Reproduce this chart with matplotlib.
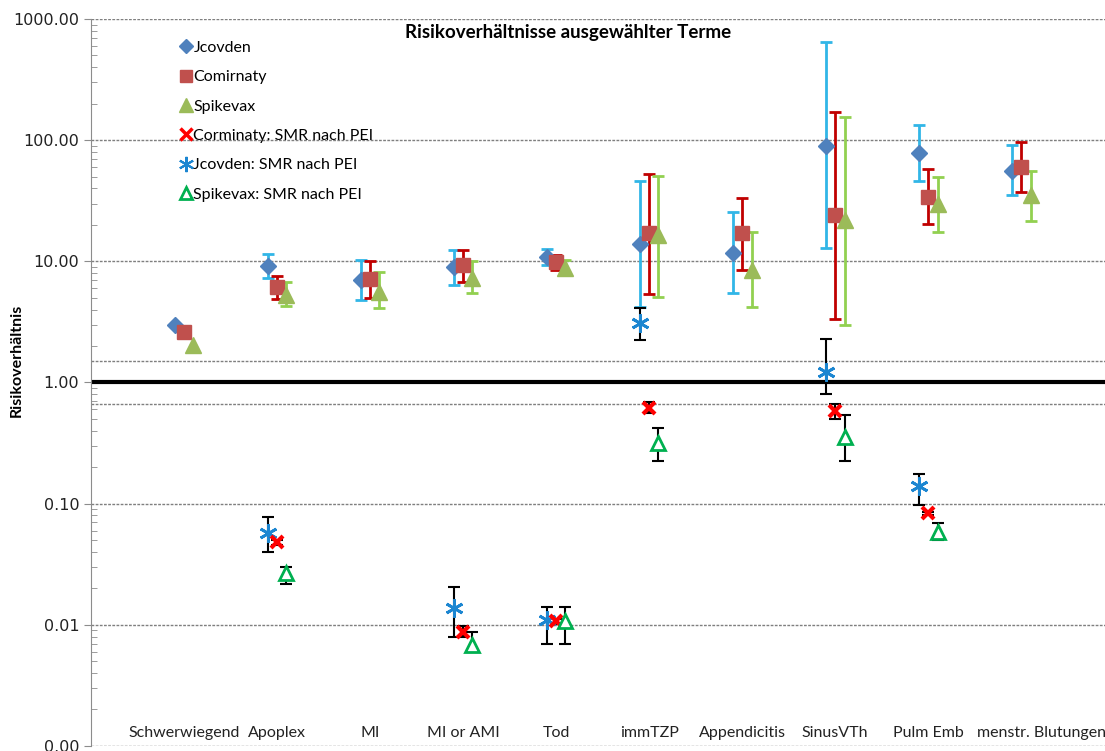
import numpy as np
import matplotlib
matplotlib.use("Agg")
import matplotlib.pyplot as plt
from matplotlib.lines import Line2D
from matplotlib.ticker import FixedLocator, LogLocator, NullFormatter, FuncFormatter

# tick labels use DejaVu, everything else names Lato explicitly
plt.rcParams['font.family'] = ['DejaVu Sans']
TXT = ['Lato', 'DejaVu Sans']

categories = ["Schwerwiegend", "Apoplex", "MI", "MI or AMI", "Tod", "immTZP",
              "Appendicitis", "SinusVTh", "Pulm Emb", "menstr. Blutungen*"]

# Risk ratios with confidence limits (nan = no value / no error bar)
nan = np.nan
jcovden     = [3.0, 9.2, 6.95, 8.9, 10.9, 14.0, 11.8, 90, 79, 56]
jcovden_lo  = [nan, 7.35, 4.75, 6.4, 9.4, 4.16, 5.5, 12.8, 46, 35]
jcovden_hi  = [nan, 11.6, 10.2, 12.5, 12.7, 46.4, 25.3, 650, 134, 92]

comirnaty    = [2.63, 6.1, 7.1, 9.4, 9.8, 17.0, 17.0, 24.0, 34, 60]
comirnaty_lo = [nan, 4.93, 5.0, 6.8, 8.5, 5.4, 8.4, 3.37, 20.5, 37]
comirnaty_hi = [nan, 7.5, 10.0, 12.5, 11.3, 53, 33.6, 172, 58, 97]

spikevax    = [2.02, 5.3, 5.6, 7.3, 8.8, 16.5, 8.4, 21.8, 30, 35]
spikevax_lo = [nan, 4.3, 4.08, 5.5, 7.8, 5.1, 4.2, 3.0, 17.6, 21.7]
spikevax_hi = [nan, 6.7, 8.1, 10.0, 10.3, 51, 17.3, 154, 50, 56]

# SMR values according to PEI
smr_com    = [nan, 0.048, nan, 0.0087, 0.0107, 0.62, nan, 0.58, 0.083, nan]
smr_com_lo = [nan, 0.046, nan, 0.0079, 0.0102, 0.555, nan, 0.495, 0.080, nan]
smr_com_hi = [nan, 0.050, nan, 0.0098, 0.0112, 0.684, nan, 0.67, 0.086, nan]

smr_jco    = [nan, 0.057, nan, 0.0137, 0.0109, 3.07, nan, 1.23, 0.139, nan]
smr_jco_lo = [nan, 0.040, nan, 0.0079, 0.0069, 2.26, nan, 0.80, 0.098, nan]
smr_jco_hi = [nan, 0.077, nan, 0.0207, 0.0139, 4.08, nan, 2.30, 0.177, nan]

smr_spi    = [nan, 0.027, nan, 0.0068, 0.0107, 0.314, nan, 0.352, 0.058, nan]
smr_spi_lo = [nan, 0.0216, nan, 0.006, 0.0069, 0.227, nan, 0.227, 0.050, nan]
smr_spi_hi = [nan, 0.030, nan, 0.0087, 0.0139, 0.425, nan, 0.535, 0.069, nan]

x = np.arange(1, len(categories) + 1)

fig = plt.figure(figsize=(11.05, 7.51), dpi=100)
ax = fig.add_axes([0.0824, 0.0067, 0.9176, 0.968])
ax.set_yscale("log")
ax.set_ylim(0.001, 1000)
ax.set_xlim(0, 10.9)

# grid lines
for g in [0.001, 0.01, 0.1, 10, 100, 1000, 1.5, 0.667]:
    ax.axhline(g, color="#7f7f7f", lw=1, ls=(0, (2, 1)), zorder=1)
ax.axhline(1, color="black", lw=3, zorder=1)


def series(xpos, val, lo, hi, fmt, mcol, ecol, ms, mew=1, mfc=None, elw=2):
    val = np.array(val, float)
    lo = np.array(lo, float)
    hi = np.array(hi, float)
    err = np.vstack([val - lo, hi - val])
    ok = ~np.isnan(lo)
    if ok.any():
        ax.errorbar(xpos[ok], val[ok], yerr=err[:, ok], fmt="none", ecolor=ecol,
                    elinewidth=elw, capsize=4, capthick=elw, zorder=3)
    ax.plot(xpos, val, ls="none", marker=fmt, color=mcol, ms=ms, mew=mew,
            mfc=mcol if mfc is None else mfc, zorder=4)


series(x - 0.1, jcovden, jcovden_lo, jcovden_hi, "D", "#4F81BD", "#31B6E7", 8)
series(x, comirnaty, comirnaty_lo, comirnaty_hi, "s", "#C0504D", "#C00000", 10)
series(x + 0.1, spikevax, spikevax_lo, spikevax_hi, "^", "#9BBB59", "#92D050", 11)

series(x - 0.1, smr_jco, smr_jco_lo, smr_jco_hi, (6, 2, 0), "#1C86D1", "black", 13, mew=2, elw=1.5)
series(x, smr_com, smr_com_lo, smr_com_hi, "x", "#FF0000", "black", 9, mew=3, elw=1.5)
series(x + 0.1, smr_spi, smr_spi_lo, smr_spi_hi, "^", "#00B050", "black", 10, mew=2, mfc="white", elw=1.5)

# category labels inside the plot, at the bottom (last one runs off the edge)
for i, (xi, lab) in enumerate(zip(x, categories)):
    nudge = 0.25 if i == len(categories) - 1 else 0.0
    ax.text(xi + nudge, 0.00128, lab, ha="center", va="center", fontsize=11.5,
            color="#222222", clip_on=False, family=TXT)

ax.text(0.47, 0.981, "Risikoverhältnisse ausgewählter Terme", transform=ax.transAxes,
        ha="center", va="center", fontsize=13.5, fontweight="bold", family=TXT)
ax.set_ylabel("Risikoverhältnis", fontsize=11.5, fontweight="bold", family=TXT)
ax.yaxis.set_label_coords(-0.066, 0.53)

ax.yaxis.set_major_locator(FixedLocator([0.001, 0.01, 0.1, 1, 10, 100, 1000]))
ax.yaxis.set_major_formatter(FuncFormatter(lambda v, p: "%.2f" % v))
ax.yaxis.set_minor_locator(LogLocator(base=10, subs=np.arange(2, 10)))
ax.yaxis.set_minor_formatter(NullFormatter())
ax.tick_params(axis="y", which="major", direction="out", length=5, color="#8c8c8c",
               labelsize=11.5, labelcolor="#222222")
ax.tick_params(axis="y", which="minor", direction="in", length=4, color="#8c8c8c")
ax.set_xticks([])
for s in ["top", "right", "bottom"]:
    ax.spines[s].set_visible(False)
ax.spines["left"].set_color("#8c8c8c")

handles = [
    Line2D([], [], ls="none", marker="D", color="#4F81BD", ms=7),
    Line2D([], [], ls="none", marker="s", color="#C0504D", ms=9),
    Line2D([], [], ls="none", marker="^", color="#9BBB59", ms=10),
    Line2D([], [], ls="none", marker="x", color="#FF0000", ms=8, mew=2.5),
    Line2D([], [], ls="none", marker=(6, 2, 0), color="#1C86D1", ms=11, mew=1.5),
    Line2D([], [], ls="none", marker="^", color="#00B050", mfc="white", ms=9, mew=2),
]
labels = ["Jcovden", "Comirnaty", "Spikevax", "Corminaty: SMR nach PEI",
          "Jcovden: SMR nach PEI", "Spikevax: SMR nach PEI"]
ax.legend(handles, labels, loc="upper left", bbox_to_anchor=(0.075, 0.99), frameon=False,
          prop={"family": TXT, "size": 11.5}, handlelength=0.6, handletextpad=0.15,
          labelspacing=0.95)

fig.savefig("out.png", dpi=100)
